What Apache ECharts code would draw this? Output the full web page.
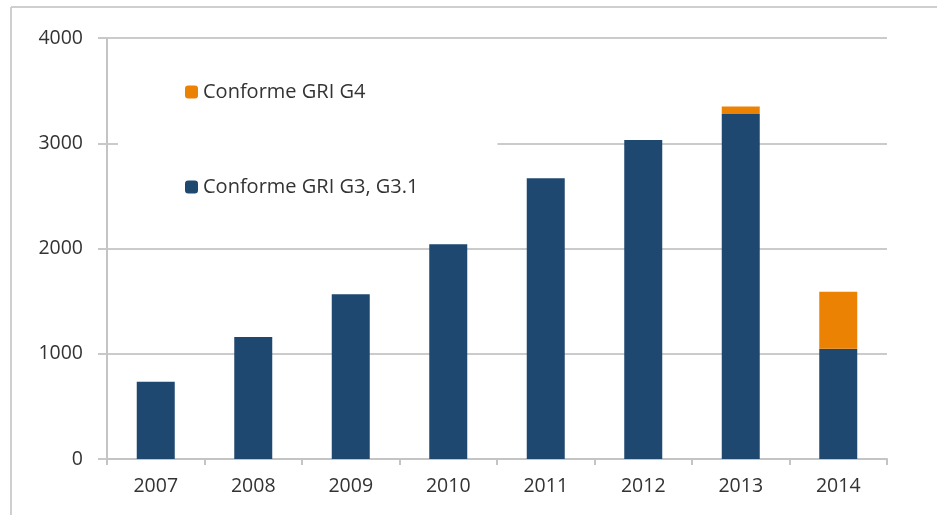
<!DOCTYPE html>
<html>
<head>
<meta charset="utf-8">
<script src="https://cdn.jsdelivr.net/npm/echarts@6/dist/echarts.min.js"></script>
<style>
  html, body { margin: 0; padding: 0; background: #fff; }
  #main { width: 937px; height: 515px; }
</style>
</head>
<body>
<div id="main"></div>
<script>
// données
var years = ['2007', '2008', '2009', '2010', '2011', '2012', '2013', '2014'];
var g3 = [735, 1160, 1566, 2040, 2668, 3032, 3279, 1048];
var g4 = [0, 0, 0, 0, 0, 0, 70, 542];
var yTicks = [0, 1000, 2000, 3000, 4000];

var myChart = echarts.init(document.getElementById('main'));

var font = '"Open Sans", "DejaVu Sans", sans-serif';

var option = {
    animation: false,
    backgroundColor: '#ffffff',
    textStyle: { fontFamily: font },
    graphic: [
        // cadre gris en haut et à gauche
        { type: 'line', shape: { x1: 11, y1: 7, x2: 11, y2: 515 }, style: { stroke: '#cfcfcf', lineWidth: 2 } },
        { type: 'line', shape: { x1: 11, y1: 7, x2: 937, y2: 7 }, style: { stroke: '#cfcfcf', lineWidth: 2 } }
    ],
    legend: {
        orient: 'vertical',
        left: 118,
        top: 58,
        data: ['Conforme GRI G4', 'Conforme GRI G3, G3.1'],
        itemWidth: 13,
        itemHeight: 13,
        itemGap: 75,
        padding: [24, 79, 37, 67],
        backgroundColor: '#ffffff',
        textStyle: { fontSize: 20, color: '#333', fontFamily: font }
    },
    grid: { left: 107, right: 50, top: 38, bottom: 56 },
    xAxis: {
        type: 'category',
        data: years,
        axisLine: { lineStyle: { color: '#c4c4c4', width: 2 } },
        axisTick: { show: true, length: 6, lineStyle: { color: '#c4c4c4', width: 2 } },
        axisLabel: { fontSize: 19.5, color: '#333', margin: 17, fontFamily: font }
    },
    yAxis: {
        type: 'value',
        min: yTicks[0],
        max: yTicks[yTicks.length - 1],
        interval: 1000,
        axisLine: { show: true, lineStyle: { color: '#c4c4c4', width: 2 } },
        axisTick: { show: true, length: 9, lineStyle: { color: '#c8c8c8', width: 2 } },
        axisLabel: { fontSize: 19.5, color: '#333', margin: 24, fontFamily: font,
            formatter: function (v) { return String(v); } },
        splitLine: { lineStyle: { color: '#cbcbcb', width: 2 } }
    },
    series: [
        {
            name: 'Conforme GRI G3, G3.1',
            type: 'bar',
            stack: 'total',
            data: g3,
            barWidth: 38,
            itemStyle: { color: '#1e4870' }
        },
        {
            name: 'Conforme GRI G4',
            type: 'bar',
            stack: 'total',
            data: g4,
            barWidth: 38,
            itemStyle: { color: '#ec8204' }
        }
    ]
};

myChart.setOption(option);
</script>
</body>
</html>
